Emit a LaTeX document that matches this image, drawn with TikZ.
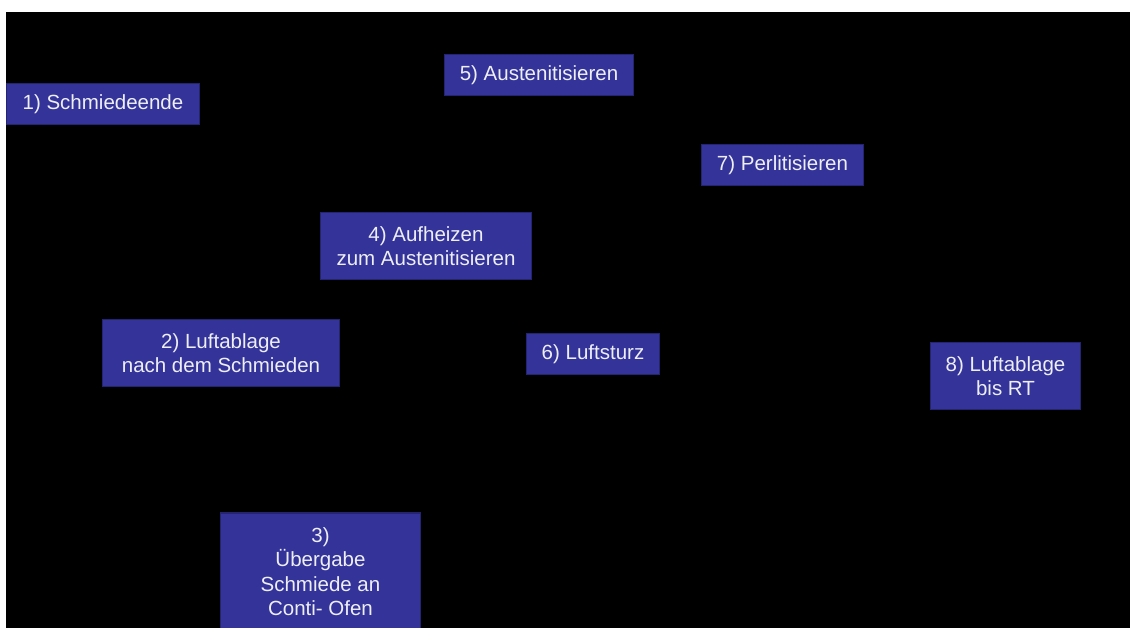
\documentclass[tikz,border=0pt]{standalone}
\usepackage{fontspec}
\setmainfont{Liberation Sans}
\definecolor{boxfill}{RGB}{51,51,153}
\definecolor{boxedge}{RGB}{36,36,112}
\definecolor{boxtext}{RGB}{238,238,245}
\tikzset{
  procbox/.style={draw=boxedge, line width=1.5pt, fill=boxfill, text=boxtext,
    align=center, inner sep=0pt, font=\fontsize{20.5}{24.4}\selectfont}
}
\begin{document}
\begin{tikzpicture}[x=1pt, y=-1pt]
         \useasboundingbox (0,0) rectangle (1130,628);
         \fill[white] (0,0) rectangle (1130,628);
         \fill[black] (6,12) rectangle (1130,628);
         \clip (0,0) rectangle (1130,628);
         \node[procbox, minimum width=193pt, minimum height=41pt] (ende) at (103,104) {1) Schmiedeende};
         \node[procbox, minimum width=237pt, minimum height=67pt] (ablage) at (221,353) {2) Luftablage\\nach dem Schmieden};
         \node[procbox, minimum width=200pt, minimum height=117pt] (uebergabe) at (320.5,571.5) {3)\\Übergabe\\Schmiede an\\Conti- Ofen};
         \node[procbox, minimum width=211pt, minimum height=67pt] (aufheizen) at (426,246) {4) Aufheizen\\zum Austenitisieren};
         \node[procbox, minimum width=189pt, minimum height=41pt] (austenit) at (539,75) {5) Austenitisieren};
         \node[procbox, minimum width=133pt, minimum height=41pt] (sturz) at (593,354) {6) Luftsturz};
         \node[procbox, minimum width=162pt, minimum height=41pt] (perlit) at (782.5,165) {7) Perlitisieren};
         \node[procbox, minimum width=150pt, minimum height=67pt] (bisrt) at (1005.5,376) {8) Luftablage\\bis RT};
    \end{tikzpicture}
\end{document}
